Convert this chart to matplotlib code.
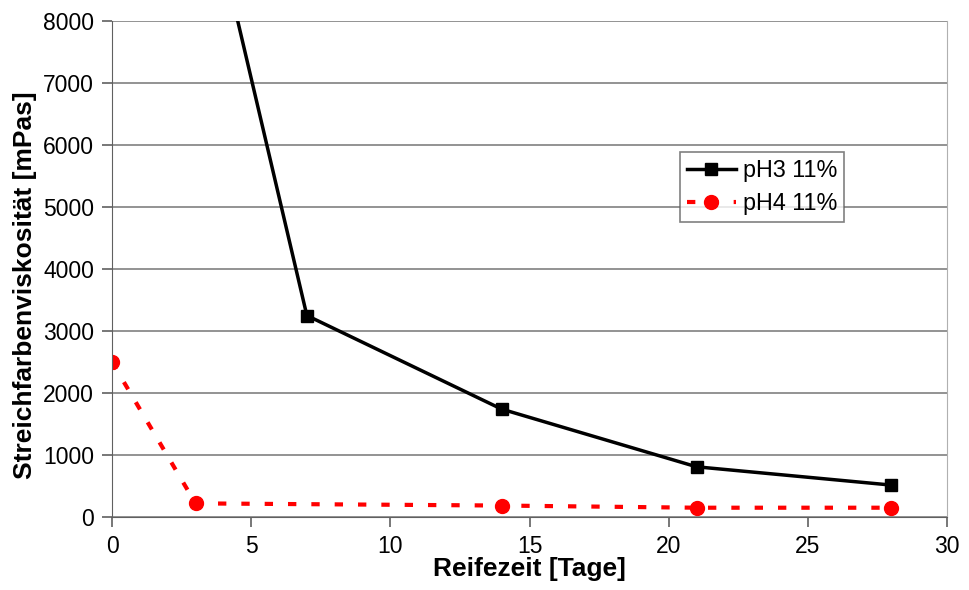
import matplotlib
matplotlib.use("Agg")
import matplotlib.pyplot as plt

plt.rcParams["font.family"] = ["Liberation Sans", "DejaVu Sans"]

# pH3: Wert bei Tag 3 liegt oberhalb der Skala (abgeschnitten)
tage_ph3 = [3, 7, 14, 21, 28]
visk_ph3 = [10900, 3250, 1740, 810, 515]

tage_ph4 = [0, 3, 14, 21, 28]
visk_ph4 = [2500, 220, 185, 150, 150]

x_ticks = [0, 5, 10, 15, 20, 25, 30]
y_ticks = [0, 1000, 2000, 3000, 4000, 5000, 6000, 7000, 8000]

fig = plt.figure(figsize=(9.7, 5.9), dpi=100)
ax = fig.add_axes([0.1155, 0.1237, 0.8608, 0.8407])

ax.plot(tage_ph3, visk_ph3, color="black", lw=2.5, marker="s", ms=9,
        label="pH3 11%")
ax.plot(tage_ph4, visk_ph4, color="red", lw=3, ls=(0, (2, 3.6)), marker="o",
        ms=10, label="pH4 11%")

ax.set_xlim(0, 30)
ax.set_ylim(0, 8000)
ax.set_xticks(x_ticks)
ax.set_yticks(y_ticks)
ax.yaxis.grid(True, color="#808080", lw=1.2)
ax.set_axisbelow(True)

ax.spines["top"].set_visible(False)
ax.spines["right"].set_color("#b0b0b0")
ax.spines["left"].set_color("#606060")
ax.spines["bottom"].set_color("#606060")
ax.tick_params(direction="out", length=7, width=1.2, color="#606060",
               labelsize=16.5, pad=6)

ax.set_xlabel("Reifezeit [Tage]", fontsize=19, fontweight="bold")
ax.xaxis.set_label_coords(0.5, -0.08)
ax.set_ylabel("Streichfarbenviskosität [mPas]", fontsize=19,
              fontweight="bold")
ax.yaxis.set_label_coords(-0.09, 0.468)

leg = ax.legend(loc="upper left", bbox_to_anchor=(0.68, 0.736), fontsize=16.8,
                frameon=True, fancybox=False, edgecolor="#606060",
                handlelength=2.1, numpoints=1, borderpad=0.3,
                labelspacing=0.45, handletextpad=0.3, borderaxespad=0)
leg.get_frame().set_linewidth(1.2)

fig.savefig("out.png", dpi=100)
